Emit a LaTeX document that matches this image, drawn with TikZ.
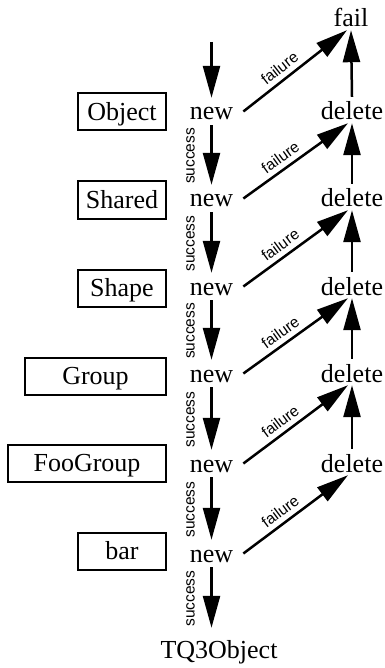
\documentclass[tikz,border=0pt]{standalone}
\usepackage{fontspec}
\setmainfont{Liberation Serif}
\newfontfamily\wordserif{Liberation Serif}
\newfontfamily\labelsans{Liberation Sans}
\usetikzlibrary{arrows.meta}
\begin{document}
\begin{tikzpicture}[x=1pt,y=-1pt,
  word/.style={font=\wordserif\fontsize{26}{30}\selectfont, inner sep=0pt, anchor=base},
  newword/.style={word, text height=22pt, text depth=5pt, inner xsep=10pt},
  delword/.style={word, text height=23pt, text depth=3pt},
  classbox/.style={draw, line width=2pt, font=\wordserif\fontsize{26}{30}\selectfont,
    inner sep=0pt, minimum height=37pt, text height=17pt, text depth=0pt},
  flow/.style={line width=2.5pt, -{Triangle[length=32pt,width=17pt]}},
  tag/.style={font=\labelsans\fontsize{15.5}{18}\selectfont, inner sep=0pt},
  ok/.style={tag, pos=0.5, xshift=-17pt, yshift=-1pt, rotate=90, anchor=base},
  bad/.style={tag, pos=0.42, sloped, above=5pt}]
\useasboundingbox (0,0) rectangle (384,668);

% class boxes
\node[classbox, minimum width=88pt]  (bObject)   at (122,112)  {Object};
\node[classbox, minimum width=88pt]  (bShared)   at (122,200)  {Shared};
\node[classbox, minimum width=88pt]  (bShape)    at (122,288)  {Shape};
\node[classbox, minimum width=141pt] (bGroup)    at (95.5,376) {Group};
\node[classbox, minimum width=158pt] (bFooGroup) at (87,463)   {FooGroup};
\node[classbox, minimum width=88pt]  (bbar)      at (122,551)  {bar};

% constructor chain
\coordinate (entry) at (211.5,42);
\node[newword] (n1) at (211.5,120) {new};
\node[newword] (n2) at (211.5,207) {new};
\node[newword] (n3) at (211.5,295) {new};
\node[newword] (n4) at (211.5,382) {new};
\node[newword] (n5) at (211.5,472) {new};
\node[newword] (n6) at (211.5,562) {new};
\node[word, text height=30pt, text depth=6pt] (done) at (219,658) {TQ3Object};

% destructor chain
\node[word, text height=20pt, text depth=3pt] (fail) at (351,27) {fail};
\node[delword] (d1) at (352,120) {delete};
\node[delword] (d2) at (352,207) {delete};
\node[delword] (d3) at (352,295) {delete};
\node[delword] (d4) at (352,382) {delete};
\node[delword] (d5) at (352,472) {delete};

% success path
\draw[flow] (entry) -- (n1.north);
\draw[flow] (n1.south) -- (n2.north) node[ok] {success};
\draw[flow] (n2.south) -- (n3.north) node[ok] {success};
\draw[flow] (n3.south) -- (n4.north) node[ok] {success};
\draw[flow] (n4.south) -- (n5.north) node[ok] {success};
\draw[flow] (n5.south) -- (n6.north) node[ok] {success};
\draw[flow] (n6.south) -- (n6.south |- done.north) node[ok] {success};

% failure path
\draw[flow] (n1.east) -- ([xshift=-4pt]fail.south) node[bad] {failure};
\draw[flow] (n2.east) -- ([xshift=-4pt]d1.south) node[bad] {failure};
\draw[flow] (n3.east) -- ([xshift=-4pt]d2.south) node[bad] {failure};
\draw[flow] (n4.east) -- ([xshift=-4pt]d3.south) node[bad] {failure};
\draw[flow] (n5.east) -- ([xshift=-4pt]d4.south) node[bad] {failure};
\draw[flow] (n6.east) -- ([xshift=-4pt]d5.south) node[bad] {failure};

% unwinding
\draw[flow] (d1.north) -- (fail.south);
\draw[flow] (d2.north) -- (d1.south);
\draw[flow] (d3.north) -- (d2.south);
\draw[flow] (d4.north) -- (d3.south);
\draw[flow] (d5.north) -- (d4.south);
\end{tikzpicture}
\end{document}
